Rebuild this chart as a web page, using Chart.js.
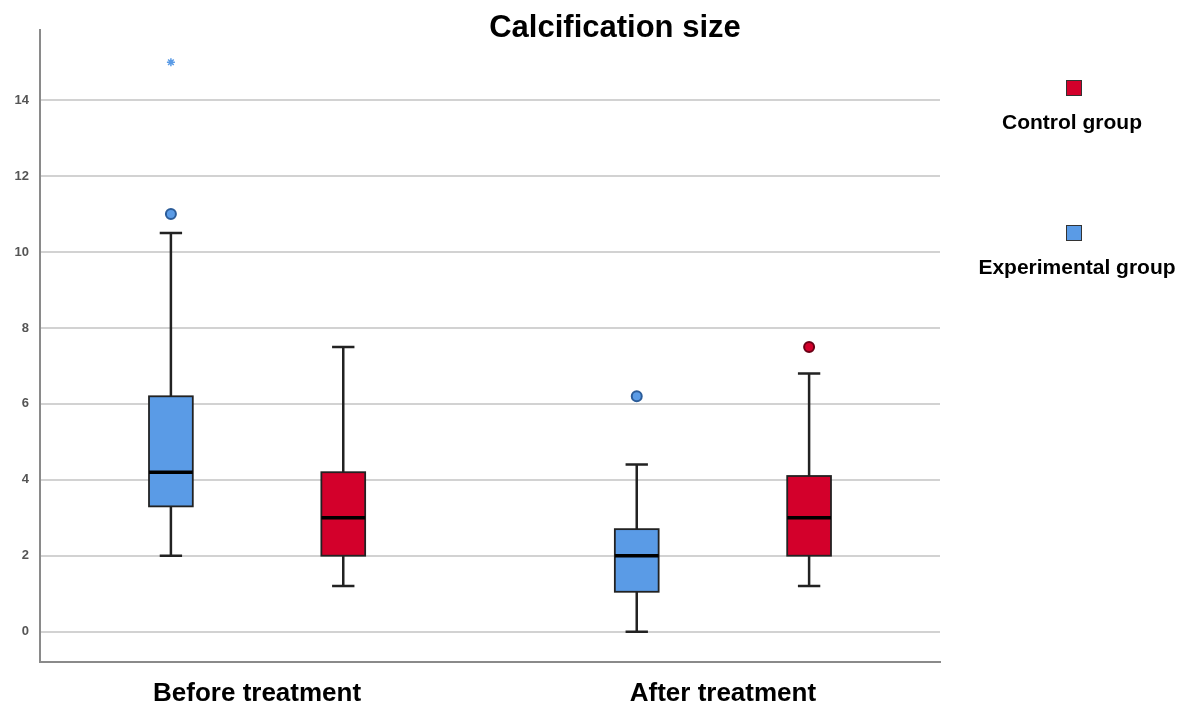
<!DOCTYPE html>
<html lang="en">
<head>
<meta charset="UTF-8">
<title>Calcification size</title>
<script src="https://cdn.jsdelivr.net/npm/chart.js@4.4.0/dist/chart.umd.min.js"></script>
<style>
  body { margin: 0; background: #fff; }
  #wrap { width: 1190px; height: 709px; position: relative; }
</style>
</head>
<body>
<div id="wrap"><canvas id="boxChart"></canvas></div>
<script>
// groups on the x axis
const groups = ['Before treatment', 'After treatment'];

// experimental group: whisker low, Q1, median, Q3, whisker high
const expLow    = [2.0, 0.0];
const expQ1     = [3.3, 1.05];
const expMedian = [4.2, 2.0];
const expQ3     = [6.2, 2.7];
const expHigh   = [10.5, 4.4];
const expOutliers = [[11.0], [6.2]];
const expExtremes = [[15.0], []];

// control group
const ctrlLow    = [1.2, 1.2];
const ctrlQ1     = [2.0, 2.0];
const ctrlMedian = [3.0, 3.0];
const ctrlQ3     = [4.2, 4.1];
const ctrlHigh   = [7.5, 6.8];
const ctrlOutliers = [[], [7.5]];

const yTicks = [0, 2, 4, 6, 8, 10, 12, 14];

const blue = '#5a9be6';
const red = '#d3002b';
const SHIFT = 0.185;   // offset of each box from the group centre
const HALF_BOX = 0.047; // half box width in x units
const HALF_CAP = 0.024;

function points(lists, shift) {
    const out = [];
    lists.forEach((vals, i) => vals.forEach(v => out.push({x: i + shift, y: v})));
    return out;
}

// draws the boxes, whiskers and medians using the chart scales
const boxPlugin = {
    id: 'boxes',
    beforeDatasetsDraw(chart) {
        const {ctx, scales: {x, y}} = chart;
        chart.data.datasets.forEach(ds => {
            if (!ds.stats) return;
            const s = ds.stats;
            s.median.forEach((m, i) => {
                const c = i + ds.shift;
                const cx = x.getPixelForValue(c);
                const l = x.getPixelForValue(c - HALF_BOX), r = x.getPixelForValue(c + HALF_BOX);
                const cl = x.getPixelForValue(c - HALF_CAP), cr = x.getPixelForValue(c + HALF_CAP);
                const yLow = y.getPixelForValue(s.low[i]), yHigh = y.getPixelForValue(s.high[i]);
                const yQ1 = y.getPixelForValue(s.q1[i]), yQ3 = y.getPixelForValue(s.q3[i]);
                const yMed = y.getPixelForValue(m);
                ctx.save();
                ctx.strokeStyle = '#222';
                ctx.lineWidth = 2.5;
                ctx.beginPath();
                ctx.moveTo(cx, yLow); ctx.lineTo(cx, yQ1);
                ctx.moveTo(cx, yQ3); ctx.lineTo(cx, yHigh);
                ctx.moveTo(cl, yLow); ctx.lineTo(cr, yLow);
                ctx.moveTo(cl, yHigh); ctx.lineTo(cr, yHigh);
                ctx.stroke();
                ctx.fillStyle = ds.boxColor;
                ctx.fillRect(l, yQ3, r - l, yQ1 - yQ3);
                ctx.lineWidth = 1.8;
                ctx.strokeRect(l, yQ3, r - l, yQ1 - yQ3);
                ctx.strokeStyle = '#000';
                ctx.lineWidth = 3.5;
                ctx.beginPath();
                ctx.moveTo(l, yMed); ctx.lineTo(r, yMed);
                ctx.stroke();
                ctx.restore();
            });
        });
    }
};

// title and legend
const labelsPlugin = {
    id: 'labels',
    afterDraw(chart) {
        const ctx = chart.ctx;
        ctx.save();
        ctx.fillStyle = '#000';
        ctx.textAlign = 'center';
        ctx.textBaseline = 'middle';
        ctx.font = 'bold 31px "Liberation Sans", Arial, sans-serif';
        ctx.fillText('Calcification size', 615, 28);

        const items = [
            {label: 'Control group', color: red, y: 88, cx: 1072},
            {label: 'Experimental group', color: blue, y: 233, cx: 1077}
        ];
        items.forEach(it => {
            ctx.fillStyle = it.color;
            ctx.fillRect(1066, it.y - 8, 16, 16);
            ctx.strokeStyle = '#333';
            ctx.lineWidth = 1;
            ctx.strokeRect(1066.5, it.y - 7.5, 15, 15);
            ctx.fillStyle = '#000';
            ctx.font = 'bold 21px "Liberation Sans", Arial, sans-serif';
            ctx.fillText(it.label, it.cx, it.y + 35);
        });
        ctx.restore();
    }
};

const ctx = document.getElementById('boxChart');
new Chart(ctx, {
    type: 'scatter',
    data: {
        datasets: [
            {label: 'Experimental group', data: [], shift: -SHIFT, boxColor: blue,
             stats: {low: expLow, q1: expQ1, median: expMedian, q3: expQ3, high: expHigh}},
            {label: 'Control group', data: [], shift: SHIFT, boxColor: red,
             stats: {low: ctrlLow, q1: ctrlQ1, median: ctrlMedian, q3: ctrlQ3, high: ctrlHigh}},
            {label: 'exp outliers', data: points(expOutliers, -SHIFT), pointStyle: 'circle',
             pointRadius: 5, backgroundColor: blue, borderColor: '#2b5c99', borderWidth: 2},
            {label: 'exp extremes', data: points(expExtremes, -SHIFT), pointStyle: 'star',
             pointRadius: 4, backgroundColor: blue, borderColor: blue, borderWidth: 1.5},
            {label: 'ctrl outliers', data: points(ctrlOutliers, SHIFT), pointStyle: 'circle',
             pointRadius: 5, backgroundColor: red, borderColor: '#6b0016', borderWidth: 2}
        ]
    },
    options: {
        responsive: true,
        maintainAspectRatio: false,
        animation: false,
        layout: {padding: {top: 30, right: 250, left: 0, bottom: 0}},
        plugins: {legend: {display: false}, title: {display: false}, tooltip: {enabled: false}},
        scales: {
            x: {
                type: 'linear',
                min: -0.466,
                max: 1.466,
                afterBuildTicks(axis) { axis.ticks = groups.map((g, i) => ({value: i})); },
                afterFit(axis) { axis.height = 47; },
                grid: {display: false},
                border: {display: true, color: '#8a8a8a', width: 2},
                ticks: {
                    padding: 8,
                    color: '#000',
                    font: {family: '"Liberation Sans Narrow", "Liberation Sans", Arial', size: 26, weight: 'bold'},
                    callback: (v) => groups[v]
                }
            },
            y: {
                min: -0.8,
                max: 15.85,
                afterBuildTicks(axis) { axis.ticks = yTicks.map(v => ({value: v})); },
                afterFit(axis) { axis.width = 40; },
                grid: {color: '#d2d2d2', lineWidth: 2, drawTicks: false},
                border: {display: true, color: '#8a8a8a', width: 2},
                ticks: {
                    padding: 11,
                    color: '#555',
                    font: {family: '"Liberation Sans", Arial', size: 13, weight: 'bold'}
                }
            }
        }
    },
    plugins: [boxPlugin, labelsPlugin]
});
</script>
</body>
</html>
